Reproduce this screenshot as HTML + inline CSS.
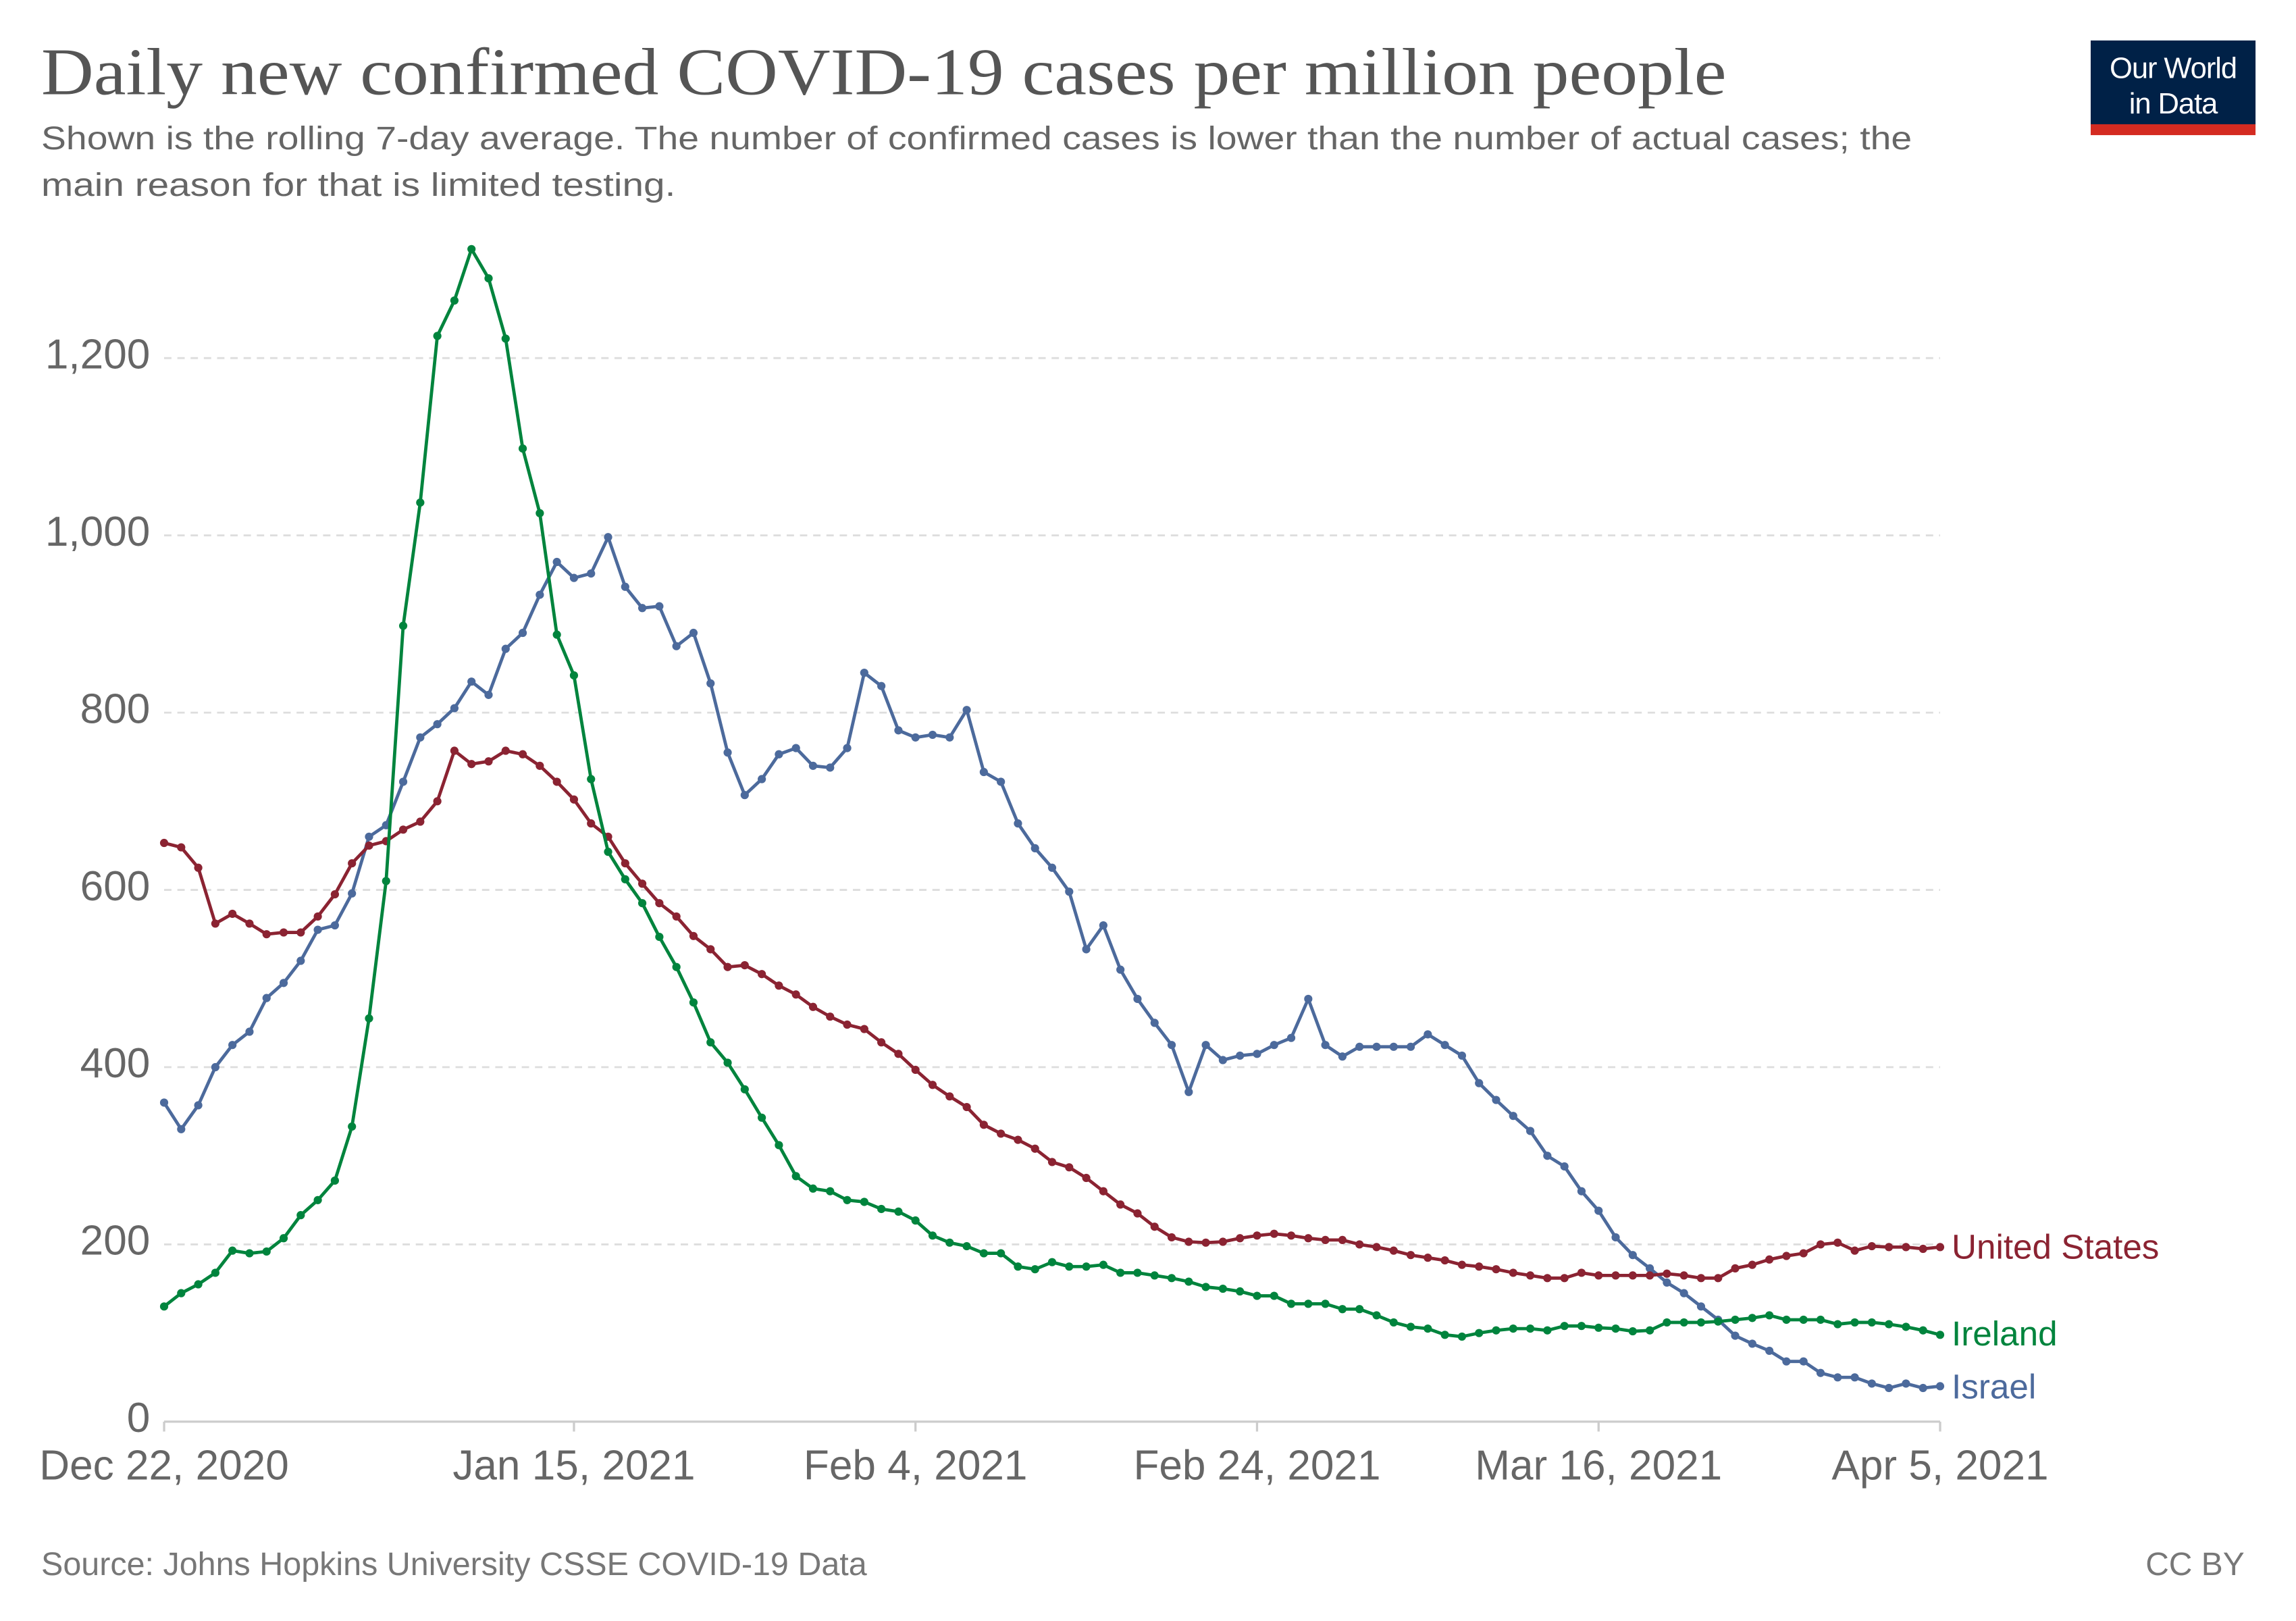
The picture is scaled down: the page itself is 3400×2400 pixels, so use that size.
<!DOCTYPE html>
<html><head><meta charset="utf-8"><style>
html,body{margin:0;padding:0;background:#fff;}
svg{display:block;}
</style></head><body>
<svg id="c" width="3400" height="2400" viewBox="0 0 1560 1101.2" preserveAspectRatio="none" xmlns="http://www.w3.org/2000/svg">
<rect width="1560" height="1102" fill="#fff"/>
<text x="28" y="64" font-family="Liberation Serif, serif" font-size="45" fill="#555" textLength="1145" lengthAdjust="spacingAndGlyphs">Daily new confirmed COVID-19 cases per million people</text>
<text x="28" y="101.5" font-family="Liberation Sans, sans-serif" font-size="22" fill="#666" textLength="1271" lengthAdjust="spacingAndGlyphs">Shown is the rolling 7-day average. The number of confirmed cases is lower than the number of actual cases; the</text>
<text x="28" y="133" font-family="Liberation Sans, sans-serif" font-size="22" fill="#666" textLength="431" lengthAdjust="spacingAndGlyphs">main reason for that is limited testing.</text>
<rect x="1420.5" y="27.5" width="112" height="57" fill="#002147"/>
<rect x="1420.5" y="84.4" width="112" height="7.4" fill="#d42b21"/>
<text x="1476.5" y="53" text-anchor="middle" font-family="Liberation Sans, sans-serif" font-size="20" fill="#fff" letter-spacing="-0.5">Our World</text>
<text x="1476.5" y="77" text-anchor="middle" font-family="Liberation Sans, sans-serif" font-size="20" fill="#fff" letter-spacing="-0.5">in Data</text>
<g id="grid" stroke="#ddd" stroke-width="1.3" stroke-dasharray="5,4"></g>
<line x1="111.5" y1="965.8" x2="1318.2" y2="965.8" stroke="#ccc" stroke-width="1.5"/>
<g id="ax" font-family="Liberation Sans, sans-serif" font-size="28.5" fill="#666"></g>
<g id="series"></g>
<text x="1326" y="855" font-family="Liberation Sans, sans-serif" font-size="23.5" fill="#8b2332">United States</text>
<text x="1326" y="914" font-family="Liberation Sans, sans-serif" font-size="23.5" fill="#00843d">Ireland</text>
<text x="1326" y="950" font-family="Liberation Sans, sans-serif" font-size="23.5" fill="#4c6a9c">Israel</text>
<text x="28" y="1070" font-family="Liberation Sans, sans-serif" font-size="22" fill="#777" textLength="561" lengthAdjust="spacingAndGlyphs">Source: Johns Hopkins University CSSE COVID-19 Data</text>
<text x="1525" y="1070" text-anchor="end" font-family="Liberation Sans, sans-serif" font-size="22" fill="#777">CC BY</text>
</svg>
<script>
var NS="http://www.w3.org/2000/svg";
function X(d){return 111.5+d*(1206.7/104);}
function Y(v){return 965.8-v*0.6021;}
function el(t,a,p,txt){var e=document.createElementNS(NS,t);for(var k in a)e.setAttribute(k,a[k]);if(txt)e.textContent=txt;p.appendChild(e);return e;}
var g=document.getElementById('grid'),ax=document.getElementById('ax');
[200,400,600,800,1000,1200].forEach(function(v){el('line',{x1:111.5,x2:1318.2,y1:Y(v),y2:Y(v)},g);});
[0,200,400,600,800,1000,1200].forEach(function(v){el('text',{x:102,y:Y(v)+7,'text-anchor':'end'},ax,v.toLocaleString('en-US'));});
[[0,'Dec 22, 2020'],[24,'Jan 15, 2021'],[44,'Feb 4, 2021'],[64,'Feb 24, 2021'],[84,'Mar 16, 2021'],[104,'Apr 5, 2021']].forEach(function(t){
 el('line',{x1:X(t[0]),x2:X(t[0]),y1:965.8,y2:972.5,stroke:'#ccc','stroke-width':1.5},ax);
 el('text',{x:X(t[0]),y:1005,'text-anchor':'middle'},ax,t[1]);});
var ire=[130,145,155,168,193,190,192,207,233,250,272,333,455,610,898,1037,1225,1265,1323,1290,1222,1098,1025,888,842,725,643,612,585,547,513,473,428,405,375,343,312,277,263,260,250,248,240,237,227,210,202,198,190,190,175,172,180,175,175,177,168,168,165,162,158,152,150,147,142,142,133,133,133,127,127,120,112,107,105,98,96,100,103,105,105,103,108,108,106,105,102,103,112,112,112,113,115,117,120,115,115,115,110,112,112,110,107,103,98];
var us=[653,648,625,562,573,562,550,552,552,570,595,630,650,655,668,677,700,757,742,745,757,753,740,722,702,675,660,630,607,585,570,548,533,513,515,505,492,482,468,457,448,443,428,415,397,380,367,355,335,325,318,308,293,287,275,260,245,235,220,208,203,202,203,207,210,212,210,207,205,205,200,197,193,188,185,182,177,175,172,168,165,162,162,168,165,165,165,165,167,165,162,162,173,177,183,187,190,200,202,193,198,197,197,195,197];
var isr=[360,330,357,400,425,440,478,495,520,555,560,596,660,673,722,772,787,805,835,820,872,890,933,970,952,957,998,942,918,920,875,890,833,755,707,725,753,760,740,738,760,845,830,780,772,775,772,803,733,722,675,647,625,598,533,560,510,477,450,425,372,425,408,413,415,425,433,477,425,412,423,423,423,423,437,425,413,382,363,345,328,300,288,260,238,208,188,173,157,145,130,115,97,88,80,68,68,55,50,50,43,38,43,38,40];
var s=document.getElementById('series');
[[isr,'#4c6a9c'],[us,'#8b2332'],[ire,'#00843d']].forEach(function(d){
 var pts=d[0].map(function(v,i){return X(i).toFixed(2)+','+Y(v).toFixed(2);}).join(' ');
 el('polyline',{points:pts,fill:'none',stroke:d[1],'stroke-width':2.2,'stroke-linejoin':'round'},s);
 d[0].forEach(function(v,i){el('circle',{cx:X(i),cy:Y(v),r:2.8,fill:d[1]},s);});
});
</script>
</body></html>
